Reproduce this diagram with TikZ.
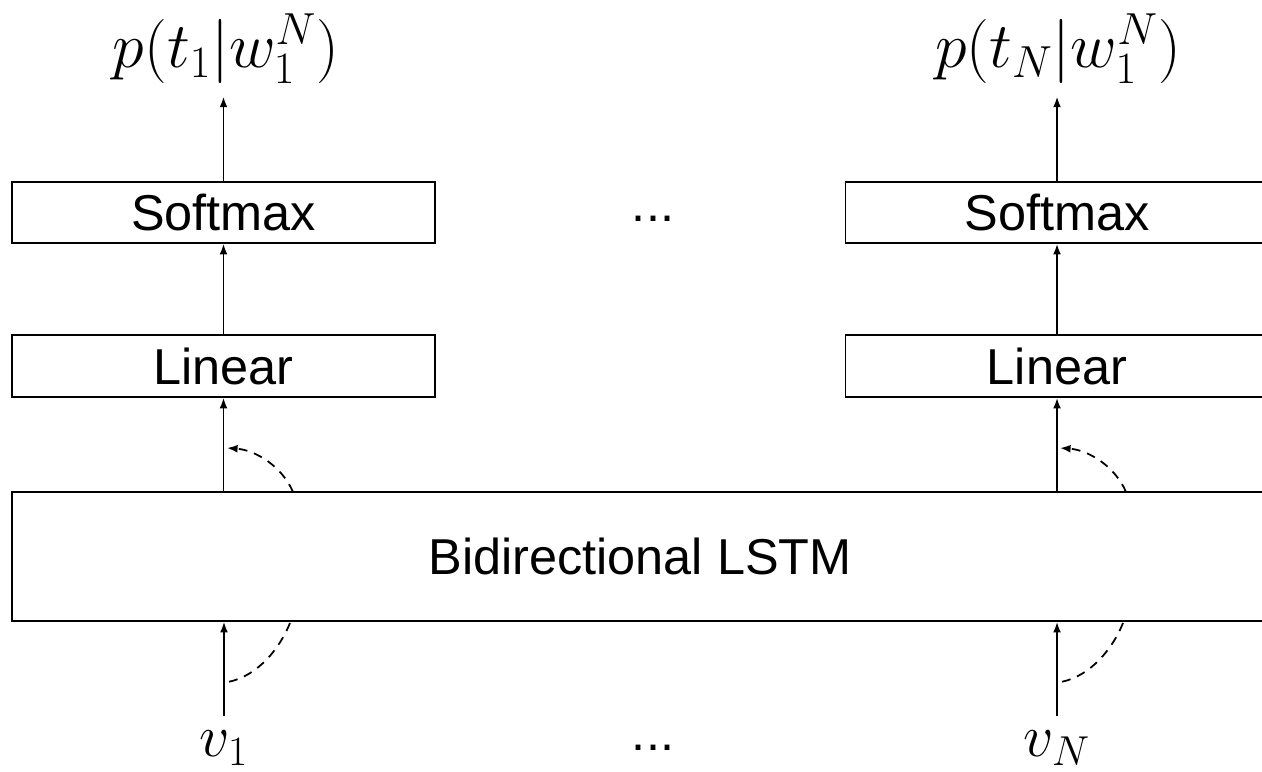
\documentclass[tikz,border=0pt]{standalone}
\usepackage{fix-cm}
\usepackage{fontspec}
\newfontfamily\boxfont{Liberation Sans}
\usetikzlibrary{arrows.meta}

\begin{document}
\begin{tikzpicture}[every node/.style={font=\boxfont\fontsize{28.7}{34}\selectfont},
    layer/.style={draw,line width=1pt,minimum width=8.46cm,minimum height=1.22cm,inner sep=0pt},
    flow/.style={line width=1pt,-{Latex[length=6pt,width=4.5pt]}},
    skip/.style={line width=1pt,dash pattern=on 5pt off 4pt},
    prob/.style={font=\fontsize{36.5}{42}\selectfont,anchor=base,inner sep=7pt},
    word/.style={font=\fontsize{34}{40}\selectfont,anchor=base,inner sep=8pt}]
    \useasboundingbox (0,0) rectangle (25.24,15.42);
    \clip (0,0) rectangle (25.24,15.42);
    % left column
    \node[layer] (sm1) at (4.47,11.17) {Softmax};
    \node[layer,minimum height=1.24cm] (lin1) at (4.47,8.10) {Linear};
    \node[prob] (p1) at (4.52,14.06) {$p(t_1|w_1^N)$};
    \node[word] (v1) at (4.48,0.29) {$v_1$};
    % right column
    \node[layer] (sm2) at (21.14,11.17) {Softmax};
    \node[layer,minimum height=1.24cm] (lin2) at (21.14,8.10) {Linear};
    \node[prob] (p2) at (21.16,14.06) {$p(t_N|w_1^N)$};
    \node[word] (v2) at (21.14,0.29) {$v_N$};
    % shared
    \node[layer,minimum width=25.12cm,minimum height=2.58cm] (lstm) at (12.80,4.29) {Bidirectional LSTM};
    \node[anchor=base] (gap1) at (13.06,10.98) {...};
    \node[anchor=base] (gap2) at (13.06,0.40) {...};
    % arrows
    \draw[flow] (lin1) -- (sm1);
    \draw[flow] (sm1.north) -- (sm1.north |- p1.south);
    \draw[flow] (lstm.north -| lin1) -- (lin1);
    \draw[flow] (v1.north) -- (v1.north |- lstm.south);
    \draw[flow] (lin2) -- (sm2);
    \draw[flow] (sm2.north) -- (sm2.north |- p2.south);
    \draw[flow] (lstm.north -| lin2) -- (lin2);
    \draw[flow] (v2.north) -- (v2.north |- lstm.south);
    % recurrent links
    \coordinate (h1) at (5.86,5.58);
    \coordinate (o1) at (4.54,6.46);
    \coordinate (x1) at (5.80,2.96);
    \coordinate (i1) at (4.56,1.78);
    \coordinate (h2) at (22.52,5.58);
    \coordinate (o2) at (21.20,6.46);
    \coordinate (x2) at (22.46,2.96);
    \coordinate (i2) at (21.22,1.78);
    \draw[skip,-{Latex[length=6pt,width=4.5pt]}] (h1) .. controls (5.64,6.10) and (5.10,6.42) .. (o1);
    \draw[skip] (x1) .. controls (5.60,2.46) and (5.16,1.90) .. (i1);
    \draw[skip,-{Latex[length=6pt,width=4.5pt]}] (h2) .. controls (22.30,6.10) and (21.76,6.42) .. (o2);
    \draw[skip] (x2) .. controls (22.26,2.46) and (21.82,1.90) .. (i2);
\end{tikzpicture}
\end{document}
